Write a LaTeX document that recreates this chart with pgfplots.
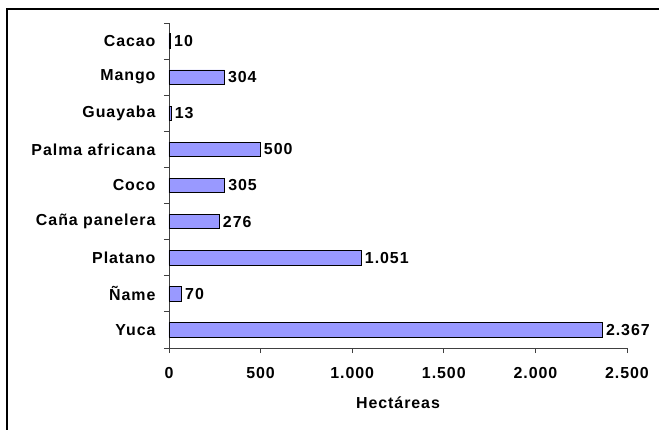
\documentclass[border=0pt]{standalone}
\usepackage{fontspec}
\setmainfont[LetterSpace=6]{Liberation Sans}
\usepackage{pgfplots}
\pgfplotsset{compat=1.18}

\definecolor{barfill}{HTML}{9999FF}
\newcommand{\chartfont}{\fontsize{16}{19}\selectfont\bfseries}

\begin{document}
\begin{tikzpicture}[font=\chartfont]
\begin{axis}[
    scale only axis,
    width=458bp, height=325bp,
    xbar,
    bar width=14.5bp,
    xmin=0, xmax=2500,
    ymin=-0.5, ymax=8.5,
    axis x line*=bottom,
    axis y line*=left,
    axis line style={-, black!75, line width=0.8bp},
    tick align=outside,
    major tick length=5bp,
    tick style={black!75, line width=0.8bp},
    xtick={0,500,1000,1500,2000,2500},
    ytick={-0.5,0.5,1.5,2.5,3.5,4.5,5.5,6.5,7.5,8.5},
    yticklabels={},
    extra y ticks={0,1,2,3,4,5,6,7,8},
    extra y tick labels={Yuca,Ñame,Platano,Caña panelera,Coco,Palma africana,Guayaba,Mango,Cacao},
    extra y tick style={major tick length=0pt},
    /pgf/number format/1000 sep={.},
    /pgf/number format/assume math mode=true,
    every tick label/.append style={font=\chartfont},
    xticklabel style={yshift=-11bp},
    yticklabel style={xshift=-10bp},
    xlabel={Hectáreas},
    xlabel style={font=\chartfont, at={(rel axis cs:0.5,0)}, anchor=center, yshift=-55bp},
    nodes near coords,
    nodes near coords align={horizontal},
    every node near coord/.append style={font=\chartfont, anchor=west, inner sep=3bp, black},
]
\addplot[fill=barfill, draw=black, line width=0.8bp] coordinates {
    (2367,0)
    (70,1)
    (1051,2)
    (276,3)
    (305,4)
    (500,5)
    (13,6)
    (304,7)
    (10,8)
};
\end{axis}
% outer chart frame (left and top edges visible)
\draw[line width=1.6bp, black] (-162bp,-82bp) -- (-162bp,339bp) -- (490bp,339bp);
\pgfresetboundingbox
\useasboundingbox (-169bp,-82bp) rectangle (490bp,348bp);
\end{tikzpicture}
\end{document}
